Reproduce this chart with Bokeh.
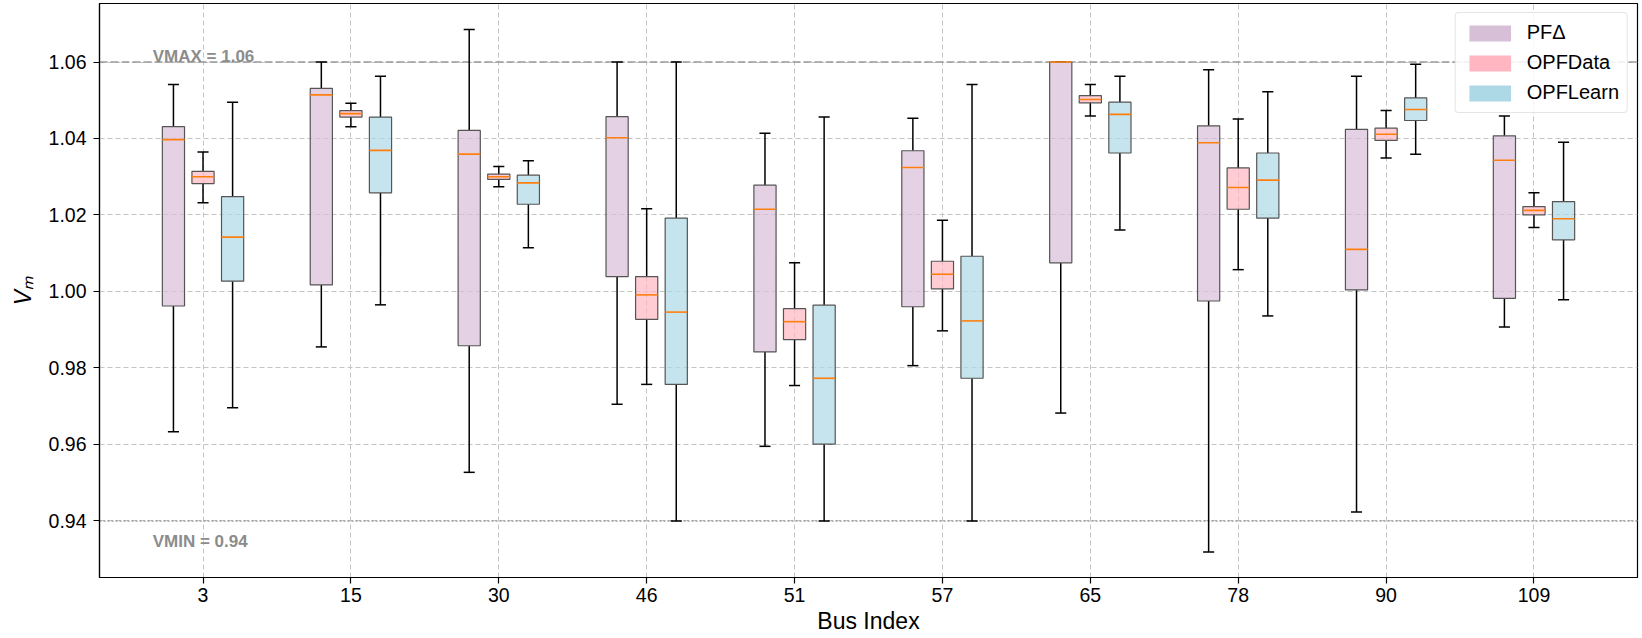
from bokeh.plotting import figure
from bokeh.models import Range1d, FixedTicker, Span, Legend, LegendItem, ColumnDataSource
from bokeh.core.properties import value
from bokeh.embed import file_html
from bokeh.resources import INLINE

# ---------------- data ----------------
BUS = [3, 15, 30, 46, 51, 57, 65, 78, 90, 109]
SERIES = ["PFΔ", "OPFData", "OPFLearn"]

PFD_WLO = [0.9633, 0.9855, 0.9527, 0.9705, 0.9595, 0.9806, 0.9682, 0.9319, 0.9423, 0.9907]
PFD_Q1 = [0.9962, 1.0017, 0.9858, 1.0039, 0.9842, 0.9960, 1.0075, 0.9975, 1.0004, 0.9982]
PFD_MED = [1.0397, 1.0514, 1.0359, 1.0402, 1.0215, 1.0324, 1.0600, 1.0389, 1.0110, 1.0343]
PFD_Q3 = [1.0431, 1.0531, 1.0421, 1.0457, 1.0278, 1.0368, 1.0600, 1.0433, 1.0424, 1.0407]
PFD_WHI = [1.0541, 1.0600, 1.0685, 1.0600, 1.0414, 1.0453, 1.0600, 1.0580, 1.0563, 1.0459]

OPD_WLO = [1.0232, 1.0431, 1.0274, 0.9757, 0.9754, 0.9897, 1.0459, 1.0057, 1.0349, 1.0167]
OPD_Q1 = [1.0282, 1.0456, 1.0293, 0.9927, 0.9874, 1.0007, 1.0493, 1.0215, 1.0395, 1.0200]
OPD_MED = [1.0300, 1.0465, 1.0300, 0.9991, 0.9921, 1.0045, 1.0502, 1.0272, 1.0411, 1.0212]
OPD_Q3 = [1.0314, 1.0473, 1.0307, 1.0039, 0.9955, 1.0079, 1.0512, 1.0323, 1.0427, 1.0222]
OPD_WHI = [1.0365, 1.0492, 1.0327, 1.0216, 1.0075, 1.0186, 1.0541, 1.0451, 1.0473, 1.0258]

OPL_WLO = [0.9696, 0.9965, 1.0114, 0.9400, 0.9400, 0.9400, 1.0161, 0.9936, 1.0359, 0.9978]
OPL_Q1 = [1.0027, 1.0258, 1.0228, 0.9757, 0.9601, 0.9773, 1.0362, 1.0192, 1.0447, 1.0135]
OPL_MED = [1.0142, 1.0369, 1.0284, 0.9946, 0.9773, 0.9923, 1.0463, 1.0291, 1.0476, 1.0190]
OPL_Q3 = [1.0248, 1.0456, 1.0304, 1.0192, 0.9964, 1.0092, 1.0495, 1.0362, 1.0506, 1.0235]
OPL_WHI = [1.0495, 1.0563, 1.0342, 1.0600, 1.0456, 1.0541, 1.0563, 1.0522, 1.0594, 1.0390]

VMAX = 1.06
VMIN = 0.94
REF_LEVELS = [VMAX, VMIN]
REF_TEXTS = ["VMAX = 1.06", "VMIN = 0.94"]
Y_TICKS = [0.94, 0.96, 0.98, 1.00, 1.02, 1.04, 1.06]
X_LABEL = "Bus Index"
Y_LABEL = "Vₘ"

STATS = [
    (PFD_WLO, PFD_Q1, PFD_MED, PFD_Q3, PFD_WHI),
    (OPD_WLO, OPD_Q1, OPD_MED, OPD_Q3, OPD_WHI),
    (OPL_WLO, OPL_Q1, OPL_MED, OPL_Q3, OPL_WHI),
]

# ---------------- style ----------------
FONT = "Liberation Sans"
COLORS = ["#d8bfd8", "#ffb6c1", "#add8e6"]
OFFSETS = [-0.2, 0.0, 0.2]
BOX_W = 0.15
CAP_W = 0.075
X_START, X_END = -0.70, 9.70

p = figure(
    width=1642, height=638,
    output_backend="svg", toolbar_location=None,
    x_range=Range1d(X_START, X_END), y_range=Range1d(0.9252, 1.0753),
    min_border_left=99, min_border_right=5, min_border_top=3, min_border_bottom=61,
)
p.background_fill_color = "white"
p.outline_line_color = "black"
p.outline_line_width = 1.2

# grids
for g in (p.xgrid, p.ygrid):
    g.grid_line_color = "#c4c4c4"
    g.grid_line_dash = "5 3"
    g.grid_line_width = 1

# reference lines
p.add_layout(Span(location=VMAX, dimension="width", line_color="#9a9a9a",
                  line_dash="8 3", line_width=1.5, level="underlay"))
p.add_layout(Span(location=VMIN, dimension="width", line_color="#9a9a9a",
                  line_dash="2 2", line_width=1.5, level="underlay"))

# boxes
legend_items = []
for k, (wlo, q1, med, q3, whi) in enumerate(STATS):
    xs = [i + OFFSETS[k] for i in range(len(BUS))]
    src = ColumnDataSource(dict(
        x=xs, wlo=wlo, q1=q1, med=med, q3=q3, whi=whi,
        xl=[x - BOX_W / 2 for x in xs], xr=[x + BOX_W / 2 for x in xs],
        cl=[x - CAP_W / 2 for x in xs], cr=[x + CAP_W / 2 for x in xs],
    ))
    p.segment(x0="x", y0="q3", x1="x", y1="whi", source=src, line_color="black", line_width=1.5)
    p.segment(x0="x", y0="q1", x1="x", y1="wlo", source=src, line_color="black", line_width=1.5)
    p.segment(x0="cl", y0="whi", x1="cr", y1="whi", source=src, line_color="black", line_width=1.5)
    p.segment(x0="cl", y0="wlo", x1="cr", y1="wlo", source=src, line_color="black", line_width=1.5)
    p.vbar(x="x", width=BOX_W, bottom="q1", top="q3", source=src,
           fill_color=COLORS[k], fill_alpha=0.7, line_color="#555555", line_width=1.2)
    p.segment(x0="xl", y0="med", x1="xr", y1="med", source=src, line_color="#ff7f0e", line_width=1.6)
    # zero-height bars: invisible in the plot, full-colour swatch in the legend
    swatch = p.vbar(x="x", width=BOX_W, bottom="med", top="med", source=src,
                    fill_color=COLORS[k], fill_alpha=1.0, line_alpha=0)
    legend_items.append(LegendItem(label=SERIES[k], renderers=[swatch]))

# reference labels
p.text(x=[-0.34, -0.34], y=REF_LEVELS, text=REF_TEXTS, y_offset=[-6, 21],
       text_font=value(FONT), text_font_style="bold", text_font_size="17px",
       text_color="#8c8c8c", text_baseline="alphabetic", text_align="left")

# axes
p.xaxis.ticker = FixedTicker(ticks=list(range(len(BUS))))
p.xaxis.major_label_overrides = {i: str(b) for i, b in enumerate(BUS)}
p.yaxis.ticker = FixedTicker(ticks=Y_TICKS)
p.yaxis.major_label_overrides = {t: f"{t:.2f}" for t in Y_TICKS}

for ax in (p.xaxis[0], p.yaxis[0]):
    ax.axis_line_color = "black"
    ax.axis_line_width = 1.2
    ax.major_tick_line_color = "black"
    ax.major_tick_line_width = 1.2
    ax.major_tick_in = 0
    ax.major_tick_out = 6
    ax.minor_tick_line_color = None
    ax.major_label_text_font = FONT
    ax.major_label_text_font_size = "19.5px"
    ax.major_label_text_color = "black"
    ax.major_label_text_line_height = 1.0
    ax.axis_label_text_font = FONT
    ax.axis_label_text_color = "black"
    ax.axis_label_text_line_height = 1.0
p.xaxis.major_label_standoff = 4
p.yaxis.major_label_standoff = 7

p.xaxis.axis_label = X_LABEL
p.xaxis.axis_label_text_font_style = "normal"
p.xaxis.axis_label_text_font_size = "23px"
p.xaxis.axis_label_standoff = 3

p.yaxis.axis_label = Y_LABEL
p.yaxis.axis_label_text_font_style = "italic"
p.yaxis.axis_label_text_font_size = "23px"
p.yaxis.axis_label_standoff = 10

legend = Legend(items=legend_items, location="top_right")
legend.label_text_font = FONT
legend.label_text_font_size = "20px"
legend.label_text_color = "black"
legend.glyph_width = 52
legend.glyph_height = 20
legend.label_height = 22
legend.label_standoff = 11
legend.spacing = 7
legend.padding = 8
legend.margin = 9
legend.border_line_color = "#cccccc"
legend.border_line_width = 1
legend.background_fill_color = "white"
legend.background_fill_alpha = 0.85
if hasattr(legend, "border_radius"):
    legend.border_radius = 4
p.add_layout(legend)

open("out.html", "w").write(file_html(p, INLINE))
